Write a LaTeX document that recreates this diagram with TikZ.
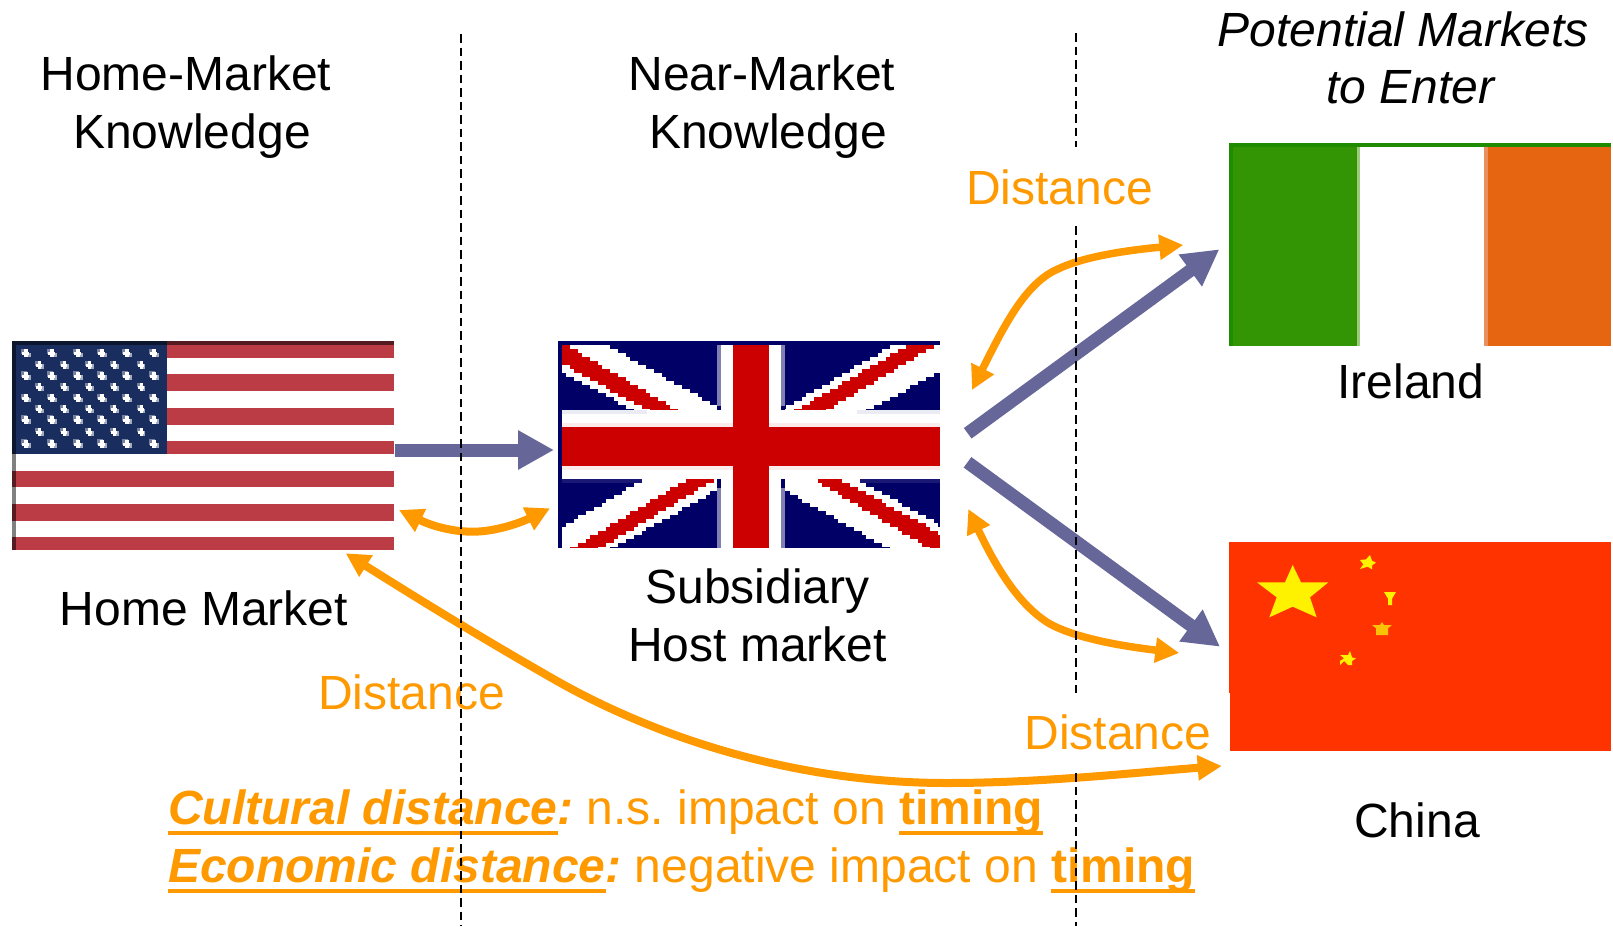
\documentclass[tikz,border=0pt]{standalone}
\usepackage{fontspec}
\setmainfont{Liberation Sans}
\usetikzlibrary{arrows.meta}
\definecolor{orng}{HTML}{FF9900}
\definecolor{slateb}{HTML}{666699}
\definecolor{usred}{HTML}{BC3C46}
\definecolor{usblue}{HTML}{192D5E}
\definecolor{uknavy}{HTML}{000066}
\definecolor{ukred}{HTML}{CC0000}
\definecolor{cnred}{HTML}{FF3300}
\definecolor{iegreen}{HTML}{339504}
\definecolor{iedark}{HTML}{1E8B00}
\definecolor{iepale}{HTML}{9CCB7D}
\definecolor{ieorange}{HTML}{E66511}
\definecolor{iepeach}{HTML}{E89060}
\newcommand\ulx[1]{\setbox0\hbox{#1}\rlap{\rule[-11pt]{\wd0}{4.5pt}}\box0}
% colour, y top, y bottom, left a, left slope, right a, right slope, x min, x max
\newcommand\stairfill[9]{%
  \foreach \kk in {0,...,17} {%
    \pgfmathsetmacro\yt{#2+12*\kk}%
    \pgfmathsetmacro\yb{min(\yt+12.3,#3)}%
    \pgfmathsetmacro\xl{max(#8,round((#4+#5*12*\kk-6)/12)*12+6)}%
    \pgfmathsetmacro\xr{min(#9,round((#6+#7*12*\kk-6)/12)*12+6)}%
    \pgfmathparse{(\yt<#3)&&(\xr>\xl)?1:0}%
    \ifnum\pgfmathresult=1 \fill[#1] (\xl,\yt) rectangle (\xr,\yb);\fi
  }%
}
\tikzset{
  lbl/.style={inner sep=0pt,anchor=base,font=\fontsize{48}{58}\selectfont,text=black},
  ilbl/.style={lbl,font=\fontsize{48}{58}\selectfont\itshape},
  dist/.style={lbl,text=orng},
  note/.style={lbl,anchor=base west,text=orng,font=\fontsize{48}{58}\selectfont\frenchspacing},
  flagbox/.style={inner sep=0pt,outer sep=0pt,anchor=north west,minimum width=#1},
  bluearrow/.style={draw=slateb,line width=13pt,-{Triangle[width=37pt,length=36pt]},line cap=butt},
  orngarrow/.style={draw=orng,line width=#1,{Triangle[width=24pt,length=24pt]}-{Triangle[width=24pt,length=24pt]}},
  orngarrow/.default=7.5pt,
  divider/.style={draw=black,line width=2.2pt,dash pattern=on 8.5pt off 5pt}
}
\begin{document}
\begin{tikzpicture}[x=1pt,y=-1pt]
\useasboundingbox (0,0) rectangle (1613,926);
\fill[white] (0,0) rectangle (1613,926);

% --- US flag
\node[flagbox=382pt,minimum height=209pt,fill=white] (usflag) at (12,341) {};
\begin{scope}[shift={(0,320)},x=0.35714pt,y=-0.33333pt]
  \foreach \a/\b in {63/113,162/213,264/315,363/402,453/501,552/603,651/690}
    \fill[usred] (34,\a) rectangle (1103,\b);
  \fill[usblue] (34,63) rectangle (468,402);
  \fill[black!55!usred] (468,63) rectangle (1103,75);
  \fill[black!50!usblue] (34,63) rectangle (468,75);
  \fill[black!50!usblue] (34,63) rectangle (46,402);
  \foreach \a/\b in {402/453,501/552,603/651}
    \fill[gray] (34,\a) rectangle (46,\b);
  \foreach \a/\b in {453/501,552/603,651/690}
    \fill[black!55!usred] (34,\a) rectangle (46,\b);
  \foreach \yy in {100,168,235,300,372}
    \foreach \xx in {72,145,218,285,355,430} {
      \fill[usblue!60!white] (\xx-14,\yy-14) rectangle (\xx+4,\yy+2);
      \fill[usblue!40!white] (\xx-2,\yy-2) rectangle (\xx+14,\yy+12);
      \fill[white] (\xx-4,\yy-12) rectangle (\xx+6,\yy+12);
      \fill[white] (\xx-10,\yy-3) rectangle (\xx+10,\yy+6);
    }
  \foreach \yy in {135,200,268,335}
    \foreach \xx in {110,180,250,320,395} {
      \fill[usblue!60!white] (\xx-12,\yy-12) rectangle (\xx+4,\yy+2);
      \fill[usblue!40!white] (\xx-2,\yy-2) rectangle (\xx+12,\yy+12);
      \fill[white] (\xx-4,\yy-12) rectangle (\xx+6,\yy+12);
      \fill[white] (\xx-8,\yy-3) rectangle (\xx+8,\yy+6);
    }
\end{scope}

% --- UK flag
\node[flagbox=382pt,minimum height=207pt,fill=uknavy] (ukflag) at (558,341) {};
\begin{scope}[shift={(540,320)},x=0.33333pt,y=-0.33333pt]
  \stairfill{white}{75}{270}{-74}{1.867}{210}{1.803}{66}{531}
  \stairfill{white}{75}{270}{1050}{-1.721}{1340.6}{-1.875}{735}{1200}
  \stairfill{white}{477}{684}{305}{-1.732}{580}{-1.788}{66}{531}
  \stairfill{white}{477}{684}{686}{1.76}{960}{1.805}{735}{1200}
  \stairfill{ukred}{75}{270}{-25}{1.82}{90}{1.692}{66}{531}
  \stairfill{ukred}{75}{270}{1095}{-1.718}{1180}{-1.667}{735}{1200}
  \stairfill{ukred}{477}{684}{435}{-1.667}{520}{-1.667}{66}{531}
  \stairfill{ukred}{477}{684}{830}{1.667}{910}{1.835}{735}{1200}
  \fill[uknavy!50!white] (531,75) rectangle (543,258);
  \fill[uknavy!50!white] (723,75) rectangle (735,258);
  \fill[uknavy!50!white] (531,505) rectangle (543,684);
  \fill[uknavy!50!white] (723,505) rectangle (735,684);
  \fill[white] (66,270) rectangle (1200,477);
  \fill[white] (543,75) rectangle (723,684);
  \fill[uknavy!8!white] (66,270) rectangle (320,282);
  \fill[uknavy!8!white] (950,270) rectangle (1200,282);
  \fill[uknavy!90!white] (66,477) rectangle (305,489);
  \fill[uknavy!90!white] (960,477) rectangle (1200,489);
  \fill[ukred!8!white] (66,309) rectangle (1200,321);
  \fill[ukred!8!white] (66,438) rectangle (1200,450);
  \fill[ukred] (66,321) rectangle (1200,438);
  \fill[ukred] (579,75) rectangle (687,684);
\end{scope}

% --- Ireland flag
\node[flagbox=382pt,minimum height=203pt,fill=white] (ieflag) at (1229,143) {};
\fill[iegreen] (1229,143) rectangle (1356.5,346);
\fill[iepale] (1356.5,147) rectangle (1360,346);
\fill[iepeach] (1484,147) rectangle (1488,346);
\fill[ieorange] (1488,143) rectangle (1611,346);
\fill[iedark] (1229,143) rectangle (1611,146.7);
\fill[iedark] (1229,143) rectangle (1233,346);

% --- China flag
\node[flagbox=382pt,minimum height=208.7pt,fill=cnred] (cnflag) at (1229,542) {};
\begin{scope}[shift={(1200,520)},x=0.33333pt,y=-0.33333pt]
  \fill[white] (87,518) rectangle (90,692);
  \fill[yellow] (278,135)--(303,187)--(385,187)--(330,232)--(350,292)--(278,260)--(208,292)--(230,232)--(171,187)--(255,187)--cycle;
  \fill[yellow] (510,105)--(516,122)--(528,128)--(516,136)--(516,148)--(503,140)--(480,147)--(490,133)--(480,120)--(498,118)--cycle;
  \fill[yellow] (552,216)--(588,216)--(576,236)--(576,255)--(564,255)--(564,236)--cycle;
  \fill[yellow!55!orange] (516,315)--(540,315)--(546,306)--(552,315)--(576,315)--(564,325)--(564,345)--(528,345)--(528,325)--cycle;
  \fill[yellow] (420,405)--(444,405)--(450,393)--(456,412)--(468,415)--(456,423)--(456,435)--(444,435)--(432,423)--(420,435)--(420,423)--(432,415)--cycle;
\end{scope}

% --- Labels
\node[lbl] (homeA) at (186,90.5) {Home-Market};
\node[lbl] (homeB) at (192,148.5) {Knowledge};
\node[lbl] (nearA) at (762,90.5) {Near-Market};
\node[lbl] (nearB) at (768,148.5) {Knowledge};
\node[ilbl] (potA) at (1403,46.5) {Potential Markets};
\node[ilbl] (potB) at (1410.5,103.5) {to Enter};
\node[lbl] (ireland) at (1411,398) {Ireland};
\node[lbl] (china) at (1417,837) {China};
\node[lbl] (homemkt) at (204,625) {Home Market};
\node[lbl] (subs) at (757.5,603) {Subsidiary};
\node[lbl] (hostm) at (757.5,661.7) {Host market};
\node[dist] (distA) at (1059.5,204.5) {Distance};
\node[dist] (distB) at (411.7,709.5) {Distance};
\node[dist] (distC) at (1118,749.3) {Distance};
\node[note] (noteA) at (168,824) {\textbf{\textit{\ulx{Cultural distance}:}} n.s. impact on \textbf{\ulx{timing}}};
\node[note] (noteB) at (168,882) {\textbf{\textit{\ulx{Economic distance}:}} negative impact on \textbf{\ulx{timing}}};

% --- Connector end points
\coordinate (usOut) at (395,450);
\coordinate (ukIn) at (554,450);
\coordinate (ukUp) at (967.7,433.3);
\coordinate (ieIn) at (1219.3,249.3);
\coordinate (ukDn) at (967.5,462.3);
\coordinate (cnIn) at (1220,646.7);
\coordinate (oA1) at (972,390);
\coordinate (oA2) at (1183.3,245);
\coordinate (oB1) at (968.3,509);
\coordinate (oB2) at (1179.3,653);
\coordinate (oC1) at (399,510);
\coordinate (oC2) at (550,508.3);
\coordinate (oD1) at (345.7,553.3);
\coordinate (oD2) at (1221.7,766);

% --- Blue arrows
\draw[bluearrow] (usOut) -- (ukIn);
\draw[bluearrow] (ukUp) -- (ieIn);
\draw[bluearrow] (ukDn) -- (cnIn);

% --- Orange arrows
\draw[orngarrow] (oA1) .. controls (1003,328) and (1025,283) .. (1058,269) .. controls (1085,256) and (1130,250) .. (oA2);
\draw[orngarrow] (oB1) .. controls (995,565) and (1018,605) .. (1050,624) .. controls (1080,640) and (1130,647) .. (oB2);
\draw[orngarrow=8pt] (oC1) .. controls (430,525) and (450,531.7) .. (473,531.7) .. controls (495,531.7) and (520,523) .. (oC2);
\draw[orngarrow=8pt] (oD1) .. controls (420,600) and (480,637) .. (550,677) .. controls (650,735) and (790,783) .. (947,783) .. controls (1040,783) and (1130,773) .. (oD2);

% --- Dividers
\coordinate (lTop) at (461.3,34);
\coordinate (lBot) at (461.3,926);
\coordinate (rA) at (1076.3,33);
\coordinate (rB) at (1076.3,147);
\coordinate (rC) at (1076.3,226);
\coordinate (rD) at (1076.3,693);
\coordinate (rE) at (1076.3,773);
\coordinate (rF) at (1076.3,926);
\draw[divider] (lTop) -- (lBot);
\draw[divider] (rA) -- (rB);
\draw[divider] (rC) -- (rD);
\draw[divider] (rE) -- (rF);
\end{tikzpicture}
\end{document}
